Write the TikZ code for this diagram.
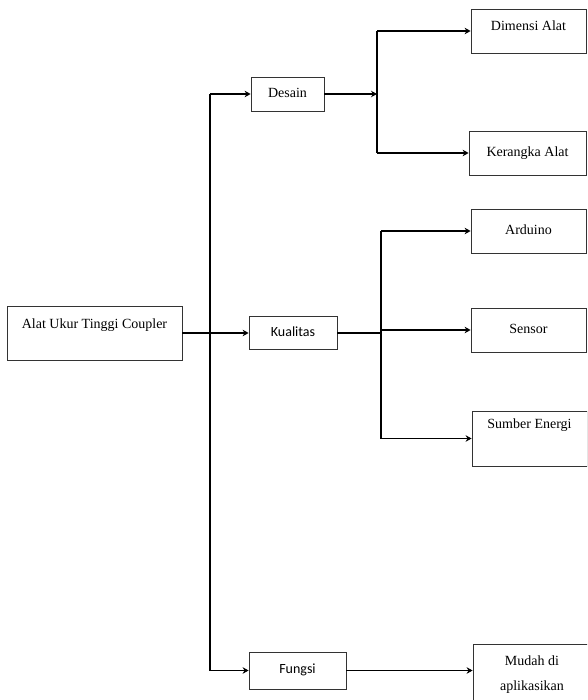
\documentclass[tikz,border=0pt]{standalone}
\usepackage{fontspec}
\setmainfont{Liberation Serif}
\newfontfamily\calibri{Carlito}
\usetikzlibrary{arrows.meta}

\begin{document}
\begin{tikzpicture}[
  x=1pt, y=-1pt,
  font=\fontsize{14}{17}\selectfont,
  box/.style={draw=black!80, line width=.8pt, inner sep=0pt, align=center,
              text height=9.5pt, text depth=3pt},
  sbox/.style={box, font=\calibri\fontsize{14}{17}\selectfont},
  flow/.style={-{Stealth[length=6pt,width=6.5pt]}, line width=1.8pt},
  wire/.style={line width=1.8pt}
]
  \clip (0,0) rectangle (587,700);
  \node[box, minimum width=175, minimum height=54, text height=9pt, text depth=19pt] (alat) at (94.5,333) {Alat Ukur Tinggi Coupler};
  \node[box, minimum width=73, minimum height=34] (desain) at (287.5,94) {Desain};
  \node[sbox, minimum width=88, minimum height=33] (kualitas) at (293,333) {Kualitas};
  \node[sbox, minimum width=97, minimum height=37] (fungsi) at (297.5,670.5) {Fungsi};
  \node[box, minimum width=115, minimum height=44, text height=8pt, text depth=8pt] (dimensi) at (528.5,31) {Dimensi Alat};
  \node[box, minimum width=117, minimum height=44] (kerangka) at (527.5,153) {Kerangka Alat};
  \node[box, minimum width=115, minimum height=44] (arduino) at (528.5,231) {Arduino};
  \node[box, minimum width=115, minimum height=44] (sensor) at (528.5,330) {Sensor};
  \node[box, minimum width=115, minimum height=55, text height=9pt, text depth=30pt] (sumber) at (529.5,438.5) {Sumber Energi};
  \node[box, minimum width=118, minimum height=62, text height=, text depth=,
        font=\fontsize{14}{25}\selectfont] (mudah) at (532,675) {Mudah di\\aplikasikan};
  \coordinate (trunk) at (210,333);
  \coordinate (busA) at (377,94);
  \coordinate (busB) at (381,333);
  \draw[flow] (alat.east) -- (kualitas.west);
  \draw[wire] (trunk |- desain) -- (trunk |- fungsi);
  \draw[flow] (trunk |- desain) -- (desain.west);
  \draw[flow] (trunk |- fungsi) -- (fungsi.west);
  \draw[flow] (desain.east) -- (busA);
  \draw[wire] (busA |- dimensi) -- (busA |- kerangka);
  \draw[flow] (busA |- dimensi) -- (dimensi.west);
  \draw[flow] (busA |- kerangka) -- (kerangka.west);
  \draw[wire] (kualitas.east) -- (busB);
  \draw[wire] (busB |- arduino) -- (busB |- sumber);
  \draw[flow] (busB |- arduino) -- (arduino.west);
  \draw[flow] (busB |- sensor) -- (sensor.west);
  \draw[flow] (busB |- sumber) -- (sumber.west);
  \draw[flow] (fungsi.east) -- (fungsi.east -| mudah.west);
\end{tikzpicture}
\end{document}
